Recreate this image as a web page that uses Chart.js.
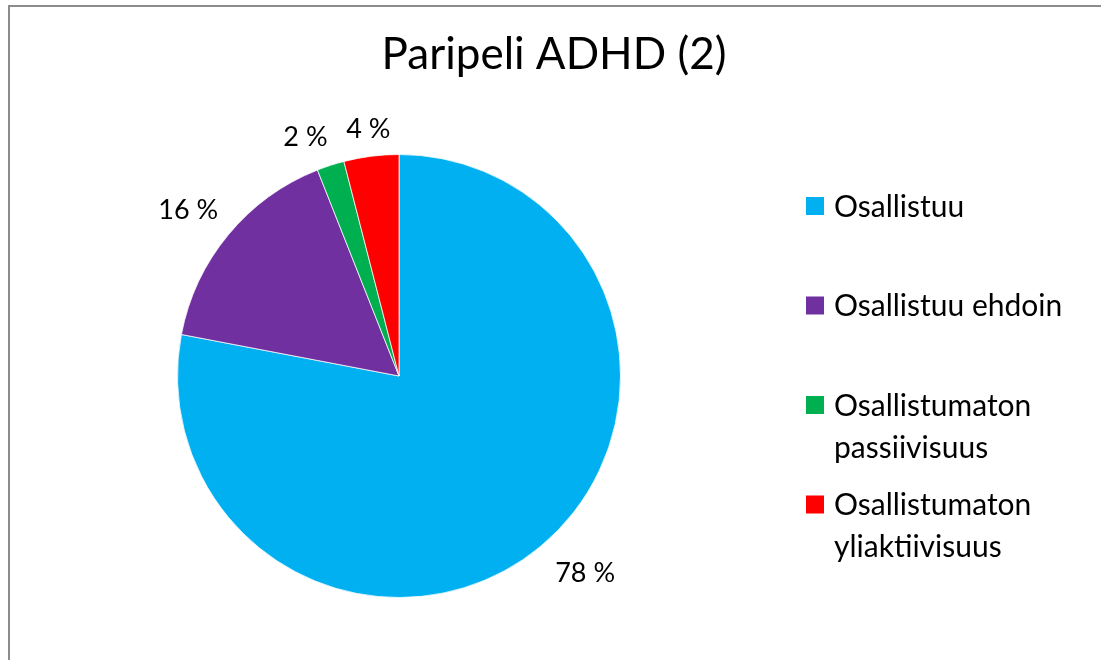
<!DOCTYPE html>
<html>
<head>
<meta charset="utf-8">
<title>Paripeli ADHD (2)</title>
<script src="https://cdn.jsdelivr.net/npm/chart.js@4/dist/chart.umd.min.js"></script>
<style>
  html, body { margin: 0; padding: 0; background: #fff; }
  canvas { display: block; }
</style>
</head>
<body>
<canvas id="pie" width="1101" height="660"></canvas>
<script>
// Paripeli ADHD (2) — share of each participation type
const titleText = 'Paripeli ADHD (2)';
const categories = ['Osallistuu', 'Osallistuu ehdoin', 'Osallistumaton passiivisuus', 'Osallistumaton yliaktiivisuus'];
const shares = [78, 16, 2, 4];
const sliceColors = ['#00b0f0', '#7030a0', '#00b050', '#ff0000'];

const FONT = "Lato, 'Open Sans', sans-serif";
// small per-label shifts so the value labels sit clear of each other
const labelNudge = [[15, 4], [-4, -5], [-13, 0], [2, 3]];

// frame, title, outside value labels and the wrapped legend
const decorations = {
  id: 'decorations',
  beforeDraw(chart) {
    const ctx = chart.ctx;
    ctx.save();
    ctx.fillStyle = '#fff';
    ctx.fillRect(0, 0, chart.width, chart.height);
    ctx.strokeStyle = '#8c8c8c';
    ctx.lineWidth = 2;
    ctx.strokeRect(9, 6, chart.width + 20, chart.height + 20);
    ctx.restore();
  },
  afterDraw(chart) {
    const ctx = chart.ctx;
    const meta = chart.getDatasetMeta(0);
    const ds = chart.data.datasets[0];
    ctx.save();
    ctx.fillStyle = '#000';

    // title
    ctx.font = '44px ' + FONT;
    ctx.textAlign = 'center';
    ctx.textBaseline = 'middle';
    ctx.fillText(titleText, 554, 55);

    // value labels just outside each slice
    ctx.font = '27px ' + FONT;
    meta.data.forEach((arc, i) => {
      const { x, y, startAngle, endAngle, outerRadius } = arc.getProps(['x', 'y', 'startAngle', 'endAngle', 'outerRadius'], true);
      const mid = (startAngle + endAngle) / 2;
      const cx = Math.cos(mid), sy = Math.sin(mid);
      const text = ds.data[i] + ' %';
      const halfW = ctx.measureText(text).width / 2;
      const halfH = 13;
      const gap = 17;
      const lx = x + cx * (outerRadius + gap) + cx * halfW + labelNudge[i][0];
      const ly = y + sy * (outerRadius + gap) + sy * halfH + labelNudge[i][1];
      ctx.fillText(text, lx, ly);
    });

    // legend
    ctx.font = '30px ' + FONT;
    ctx.textAlign = 'left';
    const boxX = 806, textX = 834, maxW = chart.width - textX - 4;
    chart.data.labels.forEach((label, i) => {
      const top = 206 + i * 99.5;
      const words = label.split(' ');
      const lines = [];
      let cur = '';
      words.forEach(w => {
        const test = cur ? cur + ' ' + w : w;
        if (cur && ctx.measureText(test).width > maxW) { lines.push(cur); cur = w; }
        else cur = test;
      });
      lines.push(cur);
      ctx.fillStyle = ds.backgroundColor[i];
      ctx.fillRect(boxX, top - 9, 18, 18);
      ctx.fillStyle = '#000';
      lines.forEach((ln, k) => ctx.fillText(ln, textX, top + 1 + k * 42));
    });
    ctx.restore();
  }
};

new Chart(document.getElementById('pie'), {
  type: 'pie',
  data: {
    labels: categories,
    datasets: [{
      data: shares,
      backgroundColor: sliceColors,
      borderColor: 'rgba(255,255,255,0.75)',
      borderWidth: 1,
    }]
  },
  options: {
    responsive: false,
    animation: false,
    devicePixelRatio: 1,
    layout: { padding: { left: 177, right: 480, top: 154, bottom: 62 } },
    plugins: {
      legend: { display: false },
      title: { display: false },
      tooltip: { enabled: false }
    }
  },
  plugins: [decorations]
});
</script>
</body>
</html>
